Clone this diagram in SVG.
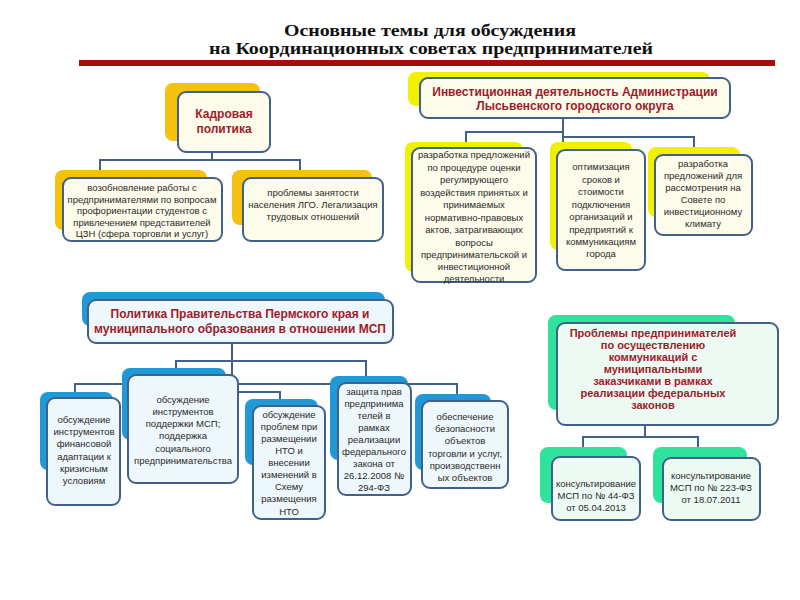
<svg xmlns="http://www.w3.org/2000/svg" width="800" height="600" viewBox="0 0 800 600">
<style>
.bg{fill:#ffffff}
.box{stroke:#41608a;stroke-width:2}
.y{fill:#fdfbea}
.b{fill:#eef7fb}
.g{fill:#edf9f3}
.sy{fill:#f4c20d}
.sl{fill:#f0f000}
.sb{fill:#1f9ad6}
.sg{fill:#2fe39c}
.t{font-family:"Liberation Sans","Open Sans",sans-serif;font-size:9.5px;fill:#2a2a2a;text-anchor:middle}
.h{font-family:"Liberation Sans","Open Sans",sans-serif;font-size:12px;font-weight:bold;fill:#9e1b2a;text-anchor:middle}
.h2{font-family:"Liberation Sans","Open Sans",sans-serif;font-size:11px;font-weight:bold;fill:#9e1b2a;text-anchor:middle}
.ttl{font-family:"Liberation Serif","Times New Roman",serif;font-size:16px;font-weight:bold;fill:#111;text-anchor:middle}
.c{fill:none;stroke:#41608a;stroke-width:2}
</style>
<rect class="bg" width="800" height="600"/>
<g id="title">
<text class="ttl" x="430" y="36" textLength="292" lengthAdjust="spacingAndGlyphs">Основные темы для обсуждения</text>
<text class="ttl" x="431" y="54" textLength="444" lengthAdjust="spacingAndGlyphs">на Координационных советах предпринимателей</text>
<rect x="79" y="60" width="696" height="6" fill="#a50d0d"/>
</g>
<g id="connectors">
<path class="c" d="M212 152V160M100 172V160H300V172"/>
<path class="c" d="M563 118V137M466 145V132H563M563 137H694V147M563 137V150"/>
<path class="c" d="M232 343V392H280V402M176 370V361H366V377M75 395V384H457V396"/>
<path class="c" d="M645 425V437M583 449V437H698V449"/>
</g>
<g id="kadr">
<rect class="sy" x="165" y="83" width="95" height="58" rx="8"/>
<rect class="box y" x="178" y="92" width="92" height="60" rx="8"/>
<text class="h" x="224" y="118">Кадровая</text>
<text class="h" x="224" y="133">политика</text>
</g>
<g id="kadr1">
<rect class="sy" x="55" y="170" width="152" height="60" rx="8"/>
<rect class="box y" x="63" y="178" width="159" height="63" rx="8"/>
<text class="t" x="142" y="191">возобновление работы с</text>
<text class="t" x="142" y="203">предпринимателями по вопросам</text>
<text class="t" x="142" y="214">профориентации студентов с</text>
<text class="t" x="142" y="226">привлечением представителей</text>
<text class="t" x="142" y="237">ЦЗН (сфера торговли и услуг)</text>
</g>
<g id="kadr2">
<rect class="sy" x="232" y="170" width="140" height="55" rx="8"/>
<rect class="box y" x="243" y="178" width="140" height="63" rx="8"/>
<text class="t" x="313" y="196">проблемы занятости</text>
<text class="t" x="313" y="208">населения ЛГО.  Легализация</text>
<text class="t" x="313" y="220">трудовых отношений</text>
</g>
<g id="invest">
<rect class="sl" x="408" y="72" width="302" height="34" rx="8"/>
<rect class="box y" x="420" y="78" width="310" height="40" rx="8"/>
<text class="h" x="575" y="96">Инвестиционная деятельность Администрации</text>
<text class="h" x="575" y="110">Лысьвенского городского округа</text>
</g>
<g id="inv1">
<rect class="sl" x="405" y="142" width="118" height="130" rx="8"/>
<rect class="box y" x="412" y="148" width="124" height="134" rx="8"/>
<text class="t" x="474" y="158">разработка предложений</text>
<text class="t" x="474" y="171">по процедуре оценки</text>
<text class="t" x="474" y="183">регулирующего</text>
<text class="t" x="474" y="196">воздействия принятых и</text>
<text class="t" x="474" y="208">принимаемых</text>
<text class="t" x="474" y="221">нормативно-правовых</text>
<text class="t" x="474" y="233">актов, затрагивающих</text>
<text class="t" x="474" y="246">вопросы</text>
<text class="t" x="474" y="258">предпринимательской и</text>
<text class="t" x="474" y="270">инвестиционной</text>
<text class="t" x="474" y="282">деятельности</text>
</g>
<g id="inv2">
<rect class="sl" x="550" y="142" width="82" height="108" rx="8"/>
<rect class="box y" x="557" y="150" width="88" height="120" rx="8"/>
<text class="t" x="601" y="170">оптимизация</text>
<text class="t" x="601" y="183">сроков и</text>
<text class="t" x="601" y="195">стоимости</text>
<text class="t" x="601" y="208">подключения</text>
<text class="t" x="601" y="220">организаций и</text>
<text class="t" x="601" y="233">предприятий к</text>
<text class="t" x="601" y="245">коммуникациям</text>
<text class="t" x="601" y="257">города</text>
</g>
<g id="inv3">
<rect class="sl" x="648" y="147" width="92" height="70" rx="8"/>
<rect class="box y" x="655" y="155" width="97" height="80" rx="8"/>
<text class="t" x="703" y="167">разработка</text>
<text class="t" x="703" y="179">предложений для</text>
<text class="t" x="703" y="191">рассмотрения на</text>
<text class="t" x="703" y="203">Совете по</text>
<text class="t" x="703" y="215">инвестиционному</text>
<text class="t" x="703" y="227">климату</text>
</g>
<g id="perm">
<rect class="sb" x="82" y="292" width="303" height="34" rx="8"/>
<rect class="box b" x="88" y="300" width="305" height="43" rx="8"/>
<text class="h" x="240" y="318">Политика Правительства Пермского края и</text>
<text class="h" x="240" y="333">муниципального образования в отношении МСП</text>
</g>
<g id="perm1">
<rect class="sb" x="40" y="392" width="73" height="78" rx="8"/>
<rect class="box b" x="47" y="398" width="73" height="107" rx="8"/>
<text class="t" x="84" y="423">обсуждение</text>
<text class="t" x="84" y="435">инструментов</text>
<text class="t" x="84" y="447">финансовой</text>
<text class="t" x="84" y="460">адаптации к</text>
<text class="t" x="84" y="472">кризисным</text>
<text class="t" x="84" y="484">условиям</text>
</g>
<g id="perm2">
<rect class="sb" x="122" y="368" width="104" height="72" rx="8"/>
<rect class="box b" x="128" y="375" width="110" height="108" rx="8"/>
<text class="t" x="183" y="403">обсуждение</text>
<text class="t" x="183" y="415">инструментов</text>
<text class="t" x="183" y="427">поддержки МСП;</text>
<text class="t" x="183" y="439">поддержка</text>
<text class="t" x="183" y="452">социального</text>
<text class="t" x="183" y="464">предпринимательства</text>
</g>
<g id="perm3">
<rect class="sb" x="245" y="399" width="73" height="66" rx="8"/>
<rect class="box b" x="253" y="406" width="72" height="113" rx="8"/>
<text class="t" x="289" y="418">обсуждение</text>
<text class="t" x="289" y="430">проблем при</text>
<text class="t" x="289" y="442">размещении</text>
<text class="t" x="289" y="454">НТО и</text>
<text class="t" x="289" y="466">внесении</text>
<text class="t" x="289" y="478">изменений в</text>
<text class="t" x="289" y="490">Схему</text>
<text class="t" x="289" y="502">размещения</text>
<text class="t" x="289" y="515">НТО</text>
</g>
<g id="perm4">
<rect class="sb" x="330" y="376" width="78" height="84" rx="8"/>
<rect class="box b" x="338" y="383" width="73" height="112" rx="8"/>
<text class="t" x="374" y="395">защита прав</text>
<text class="t" x="374" y="407">предпринима</text>
<text class="t" x="374" y="419">телей в</text>
<text class="t" x="374" y="431">рамках</text>
<text class="t" x="374" y="443">реализации</text>
<text class="t" x="374" y="455">федерального</text>
<text class="t" x="374" y="467">закона от</text>
<text class="t" x="374" y="479">26.12.2008 №</text>
<text class="t" x="374" y="491">294-ФЗ</text>
</g>
<g id="perm5">
<rect class="sb" x="415" y="394" width="76" height="76" rx="8"/>
<rect class="box b" x="422" y="401" width="86" height="87" rx="8"/>
<text class="t" x="465" y="420">обеспечение</text>
<text class="t" x="465" y="432">безопасности</text>
<text class="t" x="465" y="444">объектов</text>
<text class="t" x="465" y="457">торговли и услуг,</text>
<text class="t" x="465" y="469">производственн</text>
<text class="t" x="465" y="481">ых объектов</text>
</g>
<g id="probl">
<rect class="sg" x="548" y="315" width="187" height="95" rx="8"/>
<rect class="box g" x="557" y="323" width="221" height="102" rx="8"/>
<text class="h2" x="653" y="337">Проблемы предпринимателей</text>
<text class="h2" x="653" y="349">по осуществлению</text>
<text class="h2" x="653" y="361">коммуникаций с</text>
<text class="h2" x="653" y="373">муниципальными</text>
<text class="h2" x="653" y="385">заказчиками в рамках</text>
<text class="h2" x="653" y="397">реализации федеральных</text>
<text class="h2" x="653" y="409">законов</text>
</g>
<g id="probl1">
<rect class="sg" x="540" y="447" width="87" height="56" rx="8"/>
<rect class="box g" x="552" y="457" width="88" height="63" rx="8"/>
<text class="t" x="596" y="487">консультирование</text>
<text class="t" x="596" y="499">МСП по № 44-ФЗ</text>
<text class="t" x="596" y="511">от 05.04.2013</text>
</g>
<g id="probl2">
<rect class="sg" x="653" y="447" width="94" height="56" rx="8"/>
<rect class="box g" x="663" y="458" width="97" height="62" rx="8"/>
<text class="t" x="711" y="479">консультирование</text>
<text class="t" x="711" y="491">МСП по № 223-ФЗ</text>
<text class="t" x="711" y="503">от 18.07.2011</text>
</g>
</svg>
